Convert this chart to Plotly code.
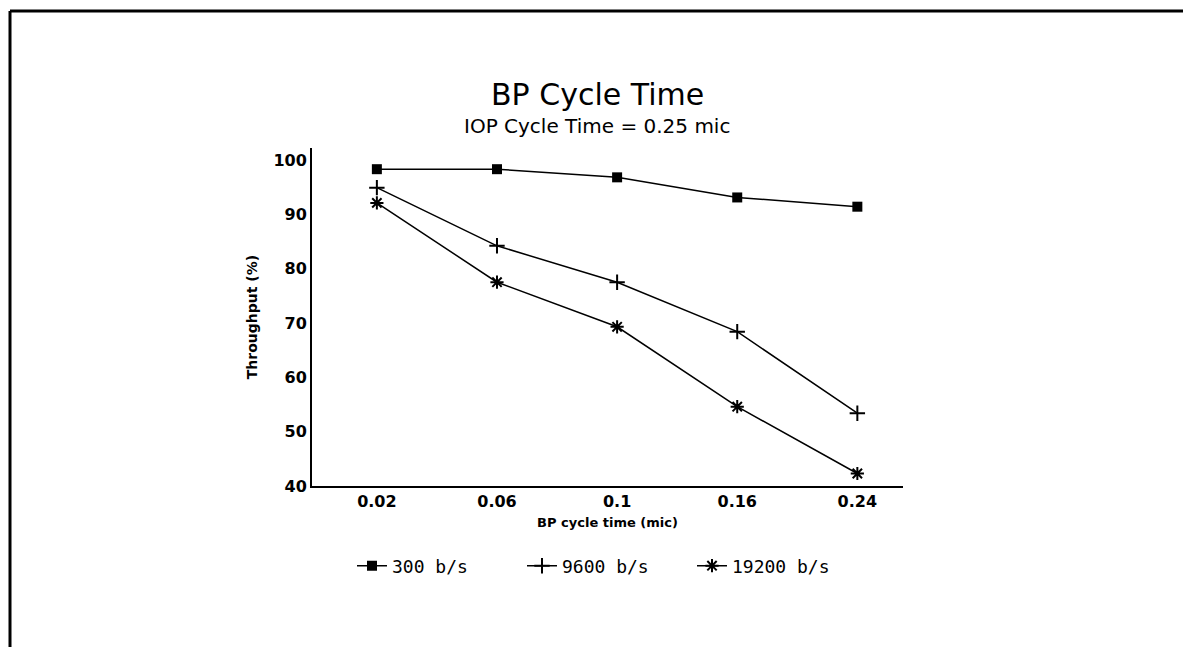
import plotly.graph_objects as go

categories = ["0.02", "0.06", "0.1", "0.16", "0.24"]
s300 = [98.3, 98.3, 96.8, 93.1, 91.4]
s9600 = [94.9, 84.2, 77.5, 68.4, 53.4]
s19200 = [92.1, 77.5, 69.3, 54.6, 42.3]
series_names = ["300 b/s", "9600 b/s", "19200 b/s"]
y_ticks = [40, 50, 60, 70, 80, 90, 100]

W, H = 1183, 647
L, R, T, B = 312, 280, 148, 161
pw, ph = W - L - R, H - T - B

def px(x):
    return (x - L) / pw

def py(y):
    return (H - B - y) / ph

SANS = "DejaVu Sans, sans-serif"
MONO = "DejaVu Sans Mono, monospace"

fig = go.Figure()
fig.add_trace(go.Scatter(x=categories, y=s300, name=series_names[0], mode="lines+markers",
                         line=dict(color="black", width=1.5),
                         marker=dict(symbol="square", size=10, color="black")))
fig.add_trace(go.Scatter(x=categories, y=s9600, name=series_names[1], mode="lines+markers",
                         line=dict(color="black", width=1.5),
                         marker=dict(symbol="cross-thin-open", size=11, color="black",
                                     line=dict(color="black", width=2))))
fig.add_trace(go.Scatter(x=categories, y=s19200, name=series_names[2], mode="lines+markers",
                         line=dict(color="black", width=1.5),
                         marker=dict(symbol="asterisk-open", size=11, color="black",
                                     line=dict(color="black", width=2))))

fig.update_layout(
    width=W, height=H,
    margin=dict(l=L, r=R, t=T, b=B),
    paper_bgcolor="white", plot_bgcolor="white",
    font=dict(family=SANS, color="black"),
    showlegend=True,
    legend=dict(orientation="h", x=px(352), xanchor="left", y=py(566), yanchor="middle",
                font=dict(size=18, family=MONO), itemwidth=30,
                entrywidth=125, entrywidthmode="pixels",
                bgcolor="rgba(0,0,0,0)"),
    xaxis=dict(type="category", range=[-0.54, 4.38], showgrid=False, zeroline=False,
               showline=True, linecolor="black", linewidth=2, ticks="",
               tickfont=dict(size=16, family=SANS, weight="bold"),
               title=dict(text="BP cycle time (mic)",
                          font=dict(size=13, family=SANS, weight="bold"), standoff=8)),
    yaxis=dict(range=[40, 102.2], tickvals=y_ticks, showgrid=False, zeroline=False,
               showline=True, linecolor="black", linewidth=2, ticks="",
               tickfont=dict(size=16, family=SANS, weight="bold"),
               title=dict(text="Throughput (%)",
                          font=dict(size=14, family=SANS, weight="bold"), standoff=12)),
    annotations=[
        dict(text="BP Cycle Time", x=px(597), y=py(94), xref="paper", yref="paper",
             showarrow=False, font=dict(size=30, family=SANS), xanchor="center", yanchor="middle"),
        dict(text="IOP Cycle Time = 0.25 mic", x=px(597), y=py(126), xref="paper", yref="paper",
             showarrow=False, font=dict(size=20, family=SANS), xanchor="center", yanchor="middle"),
    ],
    shapes=[
        dict(type="line", xref="paper", yref="paper", x0=px(10), y0=py(H + 5), x1=px(10), y1=py(11),
             line=dict(color="black", width=3)),
        dict(type="line", xref="paper", yref="paper", x0=px(10), y0=py(11), x1=px(W + 5), y1=py(11),
             line=dict(color="black", width=3)),
    ],
)

fig.write_html("out.html")
